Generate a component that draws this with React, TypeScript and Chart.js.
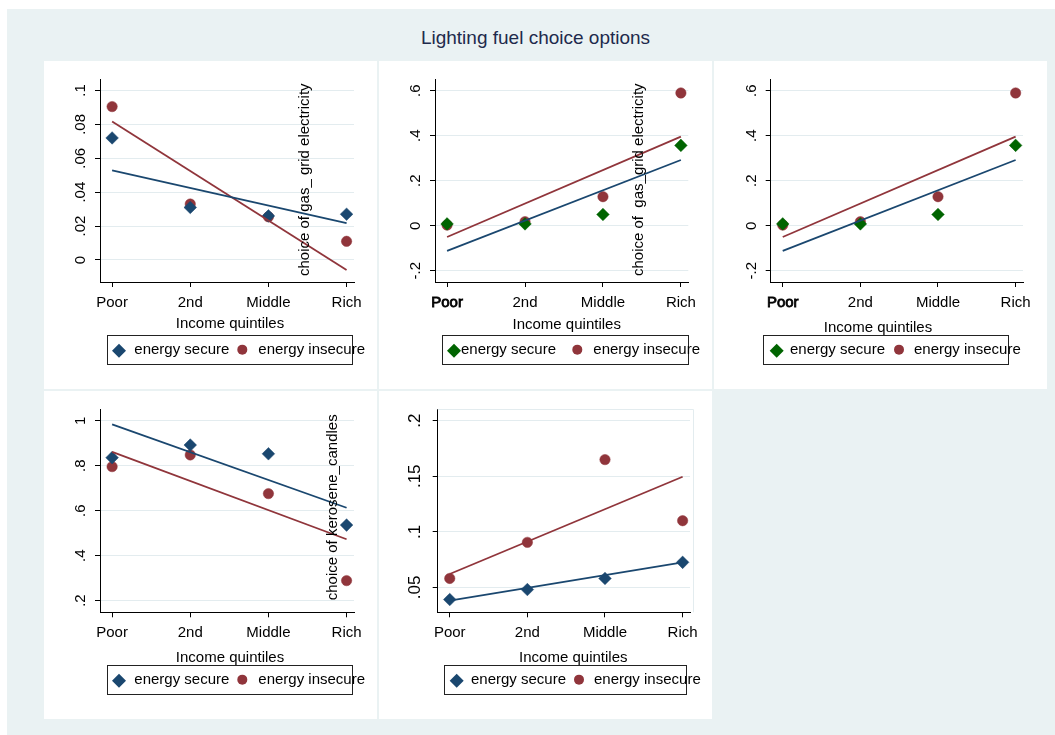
import React, { useEffect, useRef } from "react";
import { Chart, registerables } from "chart.js";

Chart.register(...registerables);

// ---------------- data ----------------
const chartTitle = "Lighting fuel choice options";
const xAxisTitle = "Income quintiles";
const categories = ["Poor", "2nd", "Middle", "Rich"];
const seriesNames = ["energy secure", "energy insecure"];

// Panel 1: gas / grid electricity
const p1Secure = [0.072, 0.031, 0.026, 0.027];
const p1Insecure = [0.0905, 0.033, 0.0255, 0.011];
const p1SecureFit = [0.0528, 0.0217];
const p1InsecureFit = [0.0817, -0.0059];
const p1YTicks = [0, 0.02, 0.04, 0.06, 0.08, 0.1];

// Panels 2 and 3: gas / grid electricity
const p2Secure = [0.008, 0.008, 0.05, 0.357];
const p2Insecure = [0.003, 0.018, 0.129, 0.59];
const p2SecureFit = [-0.112, 0.292];
const p2InsecureFit = [-0.05, 0.396];
const p2YTicks = [-0.2, 0, 0.2, 0.4, 0.6];

// Panel 4: kerosene / candles
const p4Secure = [0.836, 0.892, 0.853, 0.536];
const p4Insecure = [0.796, 0.848, 0.676, 0.289];
const p4SecureFit = [0.984, 0.613];
const p4InsecureFit = [0.862, 0.473];
const p4YTicks = [0.2, 0.4, 0.6, 0.8, 1];

// Panel 5
const p5Secure = [0.039, 0.048, 0.058, 0.0725];
const p5Insecure = [0.058, 0.0905, 0.165, 0.11];
const p5SecureFit = [0.038, 0.0725];
const p5InsecureFit = [0.062, 0.1496];
const p5YTicks = [0.05, 0.1, 0.15, 0.2];

const sideText1 = "choice of gas_ grid electricity";
const sideText2 = "choice of  gas_grid electricity";
const sideText4 = "choice of kerosene_candles";

// ---------------- styles ----------------
const FONT = "'Liberation Sans', Arial, Helvetica, sans-serif";
const NAVY = "#1a476f";
const MAROON = "#90353b";
const DKGREEN = "#006400";
const GRID = "#e3ecef";
const BG = "#eaf2f3";
const W = 333;
const H = 328;

const stataLabel = (v: number) => {
  const s = String(Math.round(v * 1000) / 1000);
  return s.replace(/^(-?)0\./, "$1.");
};

type Cfg = {
  left: number;
  top: number;
  area: { l: number; r: number; t: number; b: number };
  yMin: number;
  yMax: number;
  secure: number[];
  insecure: number[];
  secureFit: number[];
  insecureFit: number[];
  yTicks: number[];
  secureColor: string;
  boldFirst: boolean;
  side?: { text: string; x: number; gap: number };
  titleX: number;
  titleY: number;
  legend: { x1: number; x2: number; y1: number; y2: number; m1: number; t1: number; m2: number; t2: number };
  yLabelOffset: number;
  yLabelSize: number;
  frame?: boolean;
};

const legendA = { x1: 62.7, x2: 307.7, y1: 274.3, y2: 303, m1: 75, t1: 90.3, m2: 198.3, t2: 214.3 };

const panels: Cfg[] = [
  {
    left: 44, top: 61, area: { l: 56, r: 310, t: 18.3, b: 221 },
    yMin: -0.013, yMax: 0.1066,
    secure: p1Secure, insecure: p1Insecure, secureFit: p1SecureFit, insecureFit: p1InsecureFit, yTicks: p1YTicks,
    secureColor: NAVY, boldFirst: false,
    side: { text: sideText1, x: 3.515, gap: 6 },
    titleX: 186, titleY: 267, legend: legendA, yLabelOffset: 15, yLabelSize: 15,
  },
  {
    left: 379, top: 61, area: { l: 56, r: 309.3, t: 18.3, b: 221 },
    yMin: -0.2502, yMax: 0.6507,
    secure: p2Secure, insecure: p2Insecure, secureFit: p2SecureFit, insecureFit: p2InsecureFit, yTicks: p2YTicks,
    secureColor: DKGREEN, boldFirst: true,
    side: { text: sideText2, x: 3.52, gap: 6 },
    titleX: 187.7, titleY: 268,
    legend: { ...legendA, x2: 308.3, t1: 82 }, yLabelOffset: 15, yLabelSize: 15,
  },
  {
    left: 714, top: 61, area: { l: 56.7, r: 309, t: 18.3, b: 221 },
    yMin: -0.2502, yMax: 0.6507,
    secure: p2Secure, insecure: p2Insecure, secureFit: p2SecureFit, insecureFit: p2InsecureFit, yTicks: p2YTicks,
    secureColor: DKGREEN, boldFirst: true,
    titleX: 164, titleY: 270.5,
    legend: { x1: 49, x2: 294, y1: 274.3, y2: 303, m1: 62.7, t1: 76, m2: 185, t2: 200 }, yLabelOffset: 15, yLabelSize: 15,
  },
  {
    left: 44, top: 391, area: { l: 56, r: 310, t: 18.3, b: 221.3 },
    yMin: 0.148, yMax: 1.051,
    secure: p4Secure, insecure: p4Insecure, secureFit: p4SecureFit, insecureFit: p4InsecureFit, yTicks: p4YTicks,
    secureColor: NAVY, boldFirst: false,
    side: { text: sideText4, x: 3.88, gap: 12 },
    titleX: 186, titleY: 270.5, legend: legendA, yLabelOffset: 15, yLabelSize: 15,
  },
  {
    left: 379, top: 391, area: { l: 58.7, r: 311, t: 18.3, b: 221.3 },
    yMin: 0.0275, yMax: 0.2103,
    secure: p5Secure, insecure: p5Insecure, secureFit: p5SecureFit, insecureFit: p5InsecureFit, yTicks: p5YTicks,
    secureColor: NAVY, boldFirst: false,
    titleX: 194.3, titleY: 270.5,
    legend: { x1: 65.3, x2: 307.7, y1: 274.3, y2: 303, m1: 77.7, t1: 92, m2: 200, t2: 215 },
    yLabelOffset: 17.5, yLabelSize: 17, frame: true,
  },
];

function makePlugin(cfg: Cfg) {
  return {
    id: "stataDecor",
    afterDraw(chart: any) {
      const ctx: CanvasRenderingContext2D = chart.ctx;
      const ys = chart.scales.y;
      const xs = chart.scales.x;
      const ca = chart.chartArea;
      ctx.save();
      ctx.fillStyle = "#000";

      if (cfg.frame) {
        ctx.strokeStyle = GRID;
        ctx.lineWidth = 1;
        ctx.beginPath();
        ctx.moveTo(ca.left, Math.round(ca.top) + 0.5);
        ctx.lineTo(ca.right + 3.5, Math.round(ca.top) + 0.5);
        ctx.lineTo(ca.right + 3.5, ca.bottom);
        ctx.stroke();
      }

      // rotated y tick labels
      ctx.font = `${cfg.yLabelSize}px ${FONT}`;
      ctx.textAlign = "center";
      ctx.textBaseline = "alphabetic";
      for (const v of cfg.yTicks) {
        const py = ys.getPixelForValue(v);
        ctx.save();
        ctx.translate(ca.left - cfg.yLabelOffset, py);
        ctx.rotate(-Math.PI / 2);
        ctx.fillText(stataLabel(v), 0, 0);
        ctx.restore();
      }

      // side text
      ctx.font = `15px ${FONT}`;
      if (cfg.side) {
        const px = xs.getPixelForValue(cfg.side.x);
        ctx.save();
        ctx.translate(px, ca.bottom - cfg.side.gap);
        ctx.rotate(-Math.PI / 2);
        ctx.textAlign = "left";
        ctx.fillText(cfg.side.text, 0, 0);
        ctx.restore();
      }

      // x-axis title
      ctx.textAlign = "center";
      ctx.textBaseline = "alphabetic";
      ctx.fillText(xAxisTitle, cfg.titleX, cfg.titleY);

      // legend
      const L = cfg.legend;
      ctx.strokeStyle = "#222";
      ctx.lineWidth = 1;
      ctx.strokeRect(Math.round(L.x1) + 0.5, Math.round(L.y1) + 0.5, Math.round(L.x2 - L.x1), Math.round(L.y2 - L.y1));
      const cy = (L.y1 + L.y2) / 2 + 1;
      ctx.fillStyle = cfg.secureColor;
      ctx.beginPath();
      ctx.moveTo(L.m1 - 7, cy);
      ctx.lineTo(L.m1, cy - 7);
      ctx.lineTo(L.m1 + 7, cy);
      ctx.lineTo(L.m1, cy + 7);
      ctx.closePath();
      ctx.fill();
      ctx.fillStyle = MAROON;
      ctx.beginPath();
      ctx.arc(L.m2, cy - 1, 5, 0, Math.PI * 2);
      ctx.fill();
      ctx.fillStyle = "#000";
      ctx.textAlign = "left";
      ctx.textBaseline = "middle";
      ctx.fillText(seriesNames[0], L.t1, cy - 1);
      ctx.fillText(seriesNames[1], L.t2, cy - 1);
      ctx.restore();
    },
  };
}

function Panel({ cfg }: { cfg: Cfg }) {
  const ref = useRef<HTMLCanvasElement>(null);
  useEffect(() => {
    const canvas = ref.current;
    if (!canvas) return;
    const pts = (arr: number[]) => arr.map((v, i) => ({ x: i + 1, y: v }));
    const fit = (arr: number[]) => [
      { x: 1, y: arr[0] },
      { x: categories.length, y: arr[1] },
    ];
    const chart = new Chart(canvas, {
      type: "scatter",
      data: {
        datasets: [
          {
            label: seriesNames[0] + " fit",
            data: fit(cfg.secureFit),
            showLine: true,
            borderColor: NAVY,
            borderWidth: 1.8,
            pointRadius: 0,
            order: 0,
          },
          {
            label: seriesNames[1] + " fit",
            data: fit(cfg.insecureFit),
            showLine: true,
            borderColor: MAROON,
            borderWidth: 1.8,
            pointRadius: 0,
            order: 1,
          },
          {
            label: seriesNames[0],
            data: pts(cfg.secure),
            pointStyle: "rectRot",
            pointRadius: 6.3,
            backgroundColor: cfg.secureColor,
            borderColor: cfg.secureColor,
            borderWidth: 0.5,
            order: 2,
          },
          {
            label: seriesNames[1],
            data: pts(cfg.insecure),
            pointStyle: "circle",
            pointRadius: 5.2,
            backgroundColor: MAROON,
            borderColor: MAROON,
            borderWidth: 0.5,
            order: 3,
          },
        ] as any,
      },
      options: {
        animation: false,
        responsive: false,
        devicePixelRatio: 1,
        events: [],
        layout: { padding: { left: 0, top: cfg.area.t, right: W - cfg.area.r, bottom: 0 } },
        plugins: {
          legend: { display: false },
          tooltip: { enabled: false },
          title: { display: false },
        },
        scales: {
          x: {
            type: "linear",
            position: "bottom",
            min: 0.845,
            max: 4.095,
            afterBuildTicks: (s: any) => {
              s.ticks = categories.map((_, i) => ({ value: i + 1 }));
            },
            afterFit: (s: any) => {
              s.height = H - cfg.area.b;
            },
            ticks: {
              callback: (v: any) => categories[Math.round(Number(v)) - 1] ?? "",
              font: { family: FONT, size: 15 },
              color: "#000",
              padding: 7,
              maxRotation: 0,
              minRotation: 0,
              autoSkip: false,
              textStrokeColor: "#000",
              textStrokeWidth: (c: any) => (cfg.boldFirst && c.index === 0 ? 0.8 : 0),
            },
            grid: { drawOnChartArea: false, drawTicks: true, tickLength: 5, tickColor: "#000", tickWidth: 1 },
            border: { display: true, color: "#000", width: 1 },
          },
          y: {
            type: "linear",
            min: cfg.yMin,
            max: cfg.yMax,
            afterBuildTicks: (s: any) => {
              s.ticks = cfg.yTicks.map((v) => ({ value: v }));
            },
            afterFit: (s: any) => {
              s.width = cfg.area.l;
            },
            ticks: { display: false },
            grid: { color: GRID, lineWidth: 1, drawTicks: true, tickLength: 5, tickColor: "#000", tickWidth: 1 },
            border: { display: true, color: "#000", width: 1 },
          },
        },
      } as any,
      plugins: [makePlugin(cfg)],
    });
    return () => chart.destroy();
  }, [cfg]);
  return (
    <div
      style={{
        position: "absolute",
        left: cfg.left - 7,
        top: cfg.top - 9,
        width: W,
        height: H,
        background: "#fff",
      }}
    >
      <canvas ref={ref} width={W} height={H} style={{ width: W, height: H, display: "block" }} />
    </div>
  );
}

export default function App() {
  return (
    <div
      style={{
        position: "absolute",
        left: 7,
        top: 9,
        width: 1048,
        height: 726,
        background: BG,
        overflow: "hidden",
      }}
    >
      <div
        style={{
          position: "absolute",
          left: 0,
          top: 18,
          width: 1057,
          textAlign: "center",
          fontFamily: FONT,
          fontSize: 19,
          lineHeight: "22px",
          color: "#1e2a4c",
        }}
      >
        {chartTitle}
      </div>
      {panels.map((p, i) => (
        <Panel key={i} cfg={p} />
      ))}
    </div>
  );
}
